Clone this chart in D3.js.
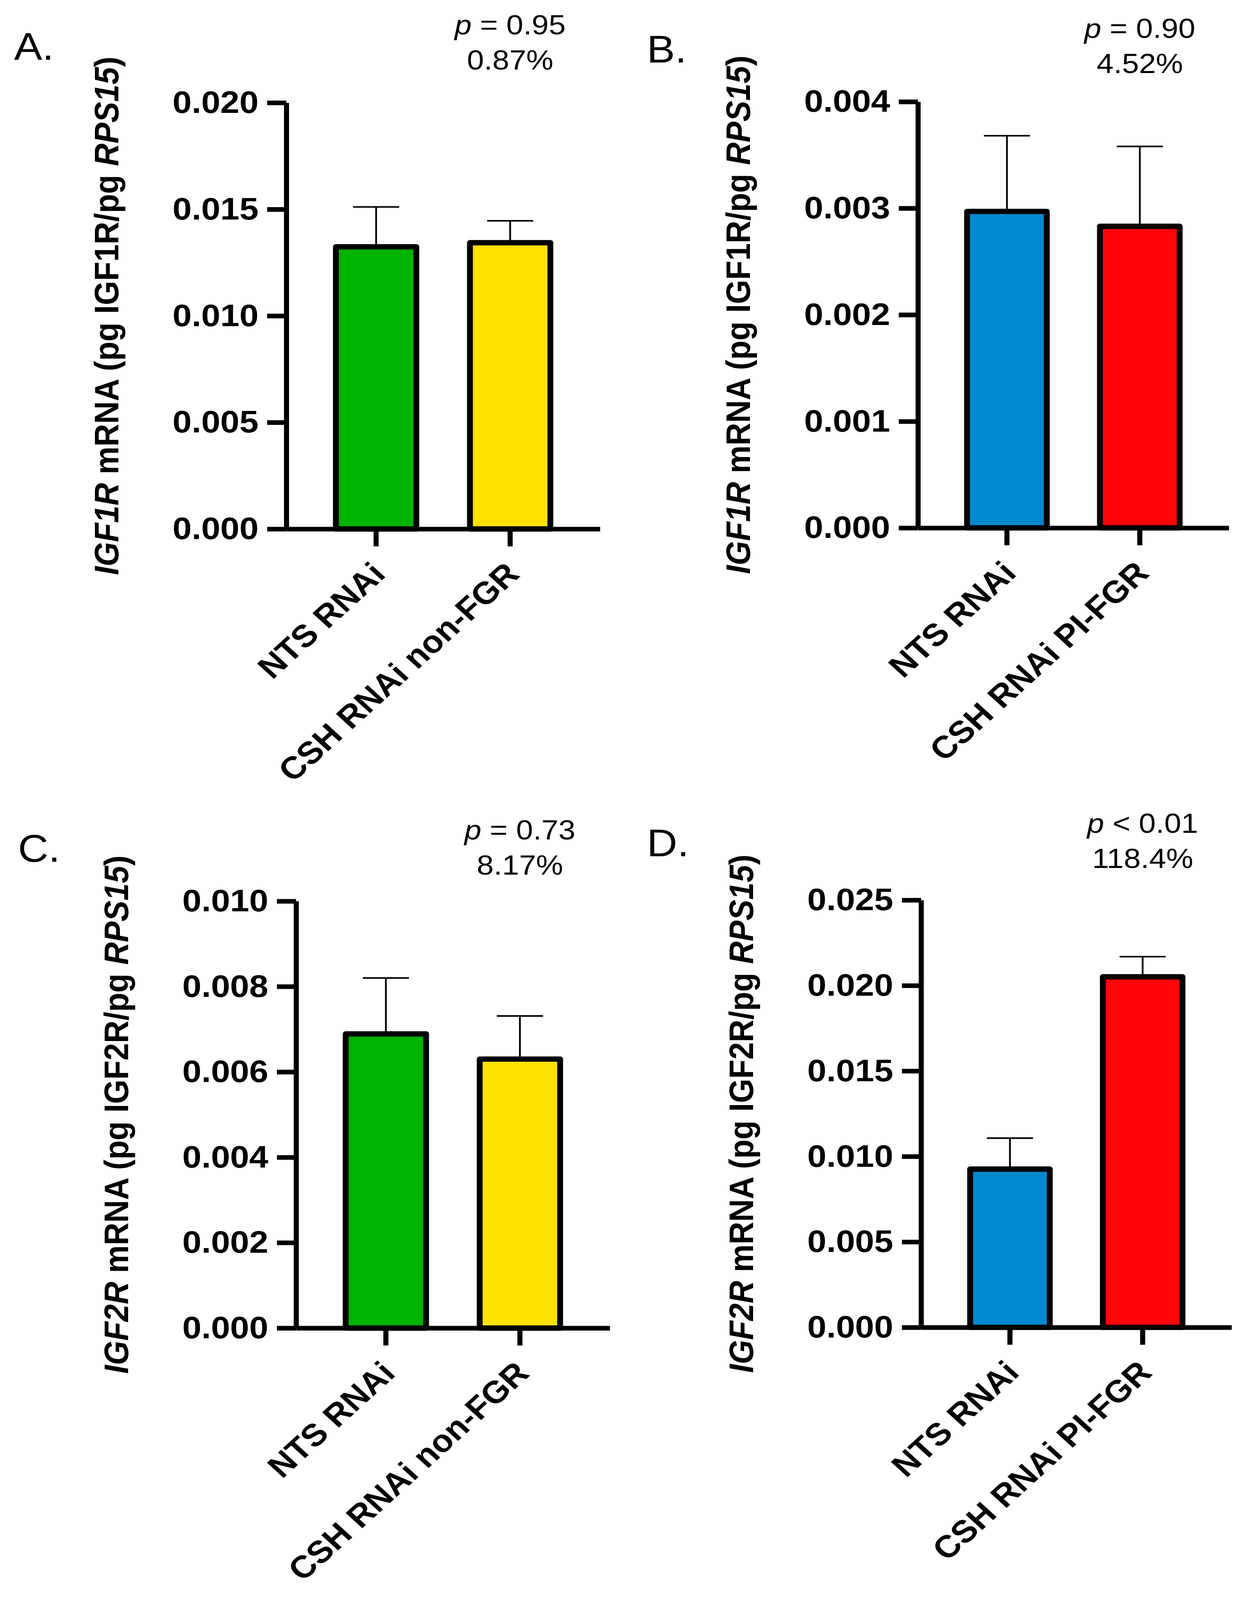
<!DOCTYPE html>
<html>
<head>
<meta charset="UTF-8">
<title>IGF1R / IGF2R mRNA</title>
<style>
  html, body { margin: 0; padding: 0; background: #fff; overflow: hidden; }
  svg { display: block; width: 100vw; height: 100vh; font-family: "Liberation Sans", Arial, Helvetica, sans-serif; }
  .axis path, .axis line { stroke: #000; stroke-width: 13px; }
  .axis text { font-size: 88px; font-weight: bold; fill: #000; font-family: "Liberation Sans", Arial, sans-serif; }
  .bold88 { font-size: 88px; font-weight: bold; }
</style>
</head>
<body>
<!-- drawn in a 3213x4501 frame, stretched to whatever the window really is -->
<svg viewBox="0 0 3213 4501" preserveAspectRatio="none"></svg>
<script src="https://d3js.org/d3.v7.min.js"></script>
<script>
// ---- data ----
const panelLetters = ["A.", "B.", "C.", "D."];
const genes = ["IGF1R", "IGF1R", "IGF2R", "IGF2R"];
const groupsNonFGR = ["NTS RNAi", "CSH RNAi non-FGR"];
const groupsFGR = ["NTS RNAi", "CSH RNAi PI-FGR"];
const categories = [groupsNonFGR, groupsFGR, groupsNonFGR, groupsFGR];
const means = [[0.01324, 0.01343], [0.00297, 0.00283], [0.00689, 0.00630], [0.00926, 0.02051]];
const sems = [[0.00187, 0.00103], [0.00071, 0.00075], [0.00131, 0.00101], [0.00181, 0.00118]];
const yMax = [0.020, 0.004, 0.010, 0.025];
const yTicks = [
  [0, 0.005, 0.010, 0.015, 0.020],
  [0, 0.001, 0.002, 0.003, 0.004],
  [0, 0.002, 0.004, 0.006, 0.008, 0.010],
  [0, 0.005, 0.010, 0.015, 0.020, 0.025]
];
const pSigns = ["=", "=", "=", "<"];
const pValues = ["0.95", "0.90", "0.73", "0.01"];
const changes = ["0.87%", "4.52%", "8.17%", "118.4%"];
const barColors = [["#00b400", "#ffe200"], ["#0089d1", "#ff050a"], ["#00b400", "#ffe200"], ["#0089d1", "#ff050a"]];

// ---- layout (pixel positions of each panel's axes) ----
const layout = [
  {x0: 733,  x1: 1536, top: 289,  bottom: 1488, lx: 36,   ly: 168,  py: 97},
  {x0: 2350, x1: 3146, top: 286,  bottom: 1485, lx: 1656, ly: 176,  py: 107},
  {x0: 758,  x1: 1561, top: 2535, bottom: 3736, lx: 46,   ly: 2424, py: 2361},
  {x0: 2358, x1: 3153, top: 2532, bottom: 3734, lx: 1656, ly: 2409, py: 2343}
];

const svg = d3.select("svg");
svg.append("rect").attr("width", 3213).attr("height", 4501).attr("fill", "#fff");

layout.forEach((L, i) => {
  const g = svg.append("g");
  const rows = categories[i].map((c, j) => ({cat: c, mean: means[i][j], sem: sems[i][j], color: barColors[i][j]}));

  const x = d3.scaleBand().domain(categories[i]).range([L.x0, L.x1])
      .paddingInner(0.4).paddingOuter(0.37);
  const y = d3.scaleLinear().domain([0, yMax[i]]).range([L.bottom, L.top]);
  const cx = d => x(d.cat) + x.bandwidth() / 2;

  // error bars (drawn under the bars)
  const err = g.append("g").attr("stroke", "#000").attr("stroke-width", 4.5);
  err.selectAll("line.stem").data(rows).join("line").attr("class", "stem")
      .attr("x1", cx).attr("x2", cx)
      .attr("y1", d => y(d.mean)).attr("y2", d => y(d.mean + d.sem));
  err.selectAll("line.cap").data(rows).join("line").attr("class", "cap")
      .attr("x1", d => cx(d) - 59).attr("x2", d => cx(d) + 59)
      .attr("y1", d => y(d.mean + d.sem)).attr("y2", d => y(d.mean + d.sem));

  // bars
  g.selectAll("rect.bar").data(rows).join("rect").attr("class", "bar")
      .attr("x", d => x(d.cat))
      .attr("width", x.bandwidth())
      .attr("y", d => y(d.mean))
      .attr("height", d => y(0) - y(d.mean))
      .attr("fill", d => d.color)
      .attr("stroke", "#000")
      .attr("stroke-width", 15)
      .attr("stroke-linejoin", "round");

  // y axis
  g.append("g").attr("class", "axis")
      .attr("transform", `translate(${L.x0},0)`)
      .call(d3.axisLeft(y).tickValues(yTicks[i]).tickFormat(d3.format(".3f"))
          .tickSize(49).tickSizeOuter(0).tickPadding(22));

  // x axis
  g.append("g").attr("class", "axis")
      .attr("transform", `translate(0,${L.bottom})`)
      .call(d3.axisBottom(x).tickSize(49).tickSizeOuter(0).tickFormat(""));

  // category labels, rotated
  g.selectAll("text.cat").data(rows).join("text").attr("class", "cat bold88")
      .attr("transform", d => `translate(${cx(d) + 6},${L.bottom + 110}) rotate(-45)`)
      .attr("text-anchor", "end")
      .attr("dy", "0.35em")
      .text(d => d.cat);

  // y title
  const t = g.append("text").attr("class", "bold88")
      .attr("transform", `translate(${L.x0 - 430},${(L.top + L.bottom) / 2}) rotate(-90)`)
      .attr("text-anchor", "middle");
  t.append("tspan").attr("font-style", "italic").text(genes[i]);
  t.append("tspan").text(` mRNA (pg ${genes[i]}/pg `);
  t.append("tspan").attr("font-style", "italic").text("RPS15");
  t.append("tspan").text(")");

  // p value and % change above second bar
  const px = cx(rows[1]);
  const p1 = g.append("text").attr("x", px).attr("y", L.py)
      .attr("text-anchor", "middle").style("font-size", "78px");
  p1.append("tspan").attr("font-style", "italic").text("p");
  p1.append("tspan").text(` ${pSigns[i]} ${pValues[i]}`);
  g.append("text").attr("x", px).attr("y", L.py + 99)
      .attr("text-anchor", "middle").style("font-size", "78px")
      .text(changes[i]);

  // panel letter
  g.append("text").attr("x", L.lx).attr("y", L.ly)
      .style("font-size", "108px")
      .text(panelLetters[i]);
});
</script>
</body>
</html>
